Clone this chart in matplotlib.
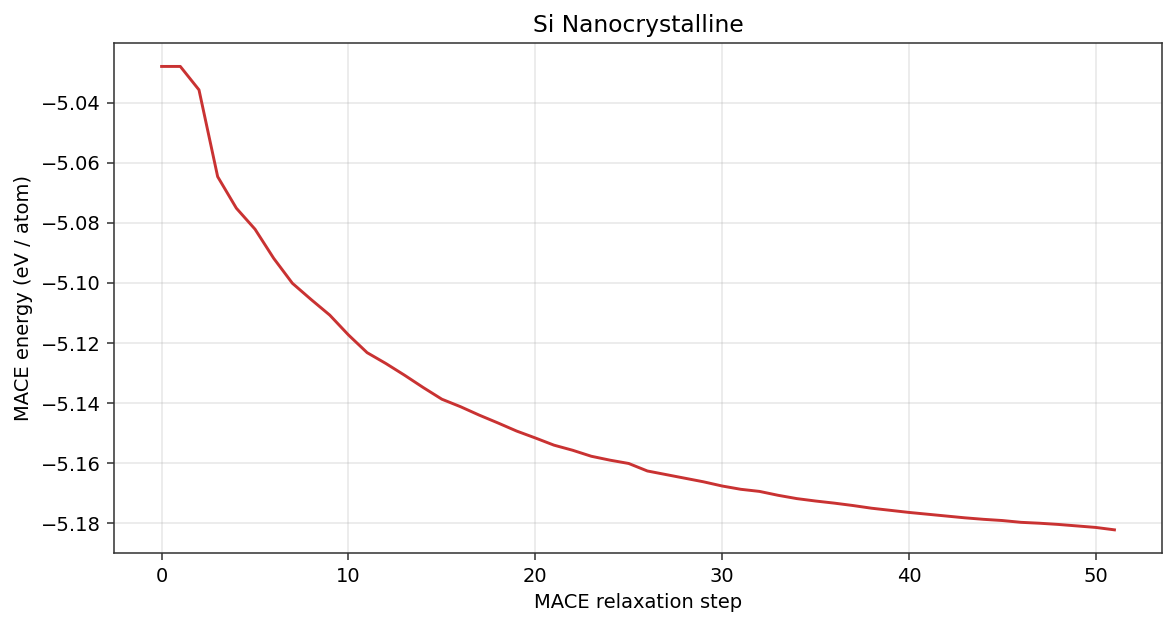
import numpy as np
import matplotlib
matplotlib.use("Agg")
import matplotlib.pyplot as plt

# energy per atom at each relaxation step
steps = list(range(52))
energy = [
    -5.0279, -5.0279, -5.0357, -5.0646, -5.0751, -5.0821, -5.0918, -5.1001,
    -5.1055, -5.1107, -5.1173, -5.1232, -5.1268, -5.1307, -5.1348, -5.1387,
    -5.1412, -5.1440, -5.1466, -5.1493, -5.1516, -5.1540, -5.1557, -5.1577,
    -5.1590, -5.1601, -5.1626, -5.1638, -5.1650, -5.1662, -5.1676, -5.1687,
    -5.1694, -5.1707, -5.1718, -5.1726, -5.1733, -5.1741, -5.1750, -5.1757,
    -5.1764, -5.1770, -5.1776, -5.1782, -5.1787, -5.1791, -5.1797, -5.1800,
    -5.1804, -5.1809, -5.1814, -5.1822,
]

dpi = 140
fig = plt.figure(figsize=(1175 / dpi, 627 / dpi), dpi=dpi)
ax = fig.add_axes([0.097, 0.118, 0.892, 0.813])
ax.plot(steps, energy, c='#c93232', lw=1.5)
ax.grid(True, alpha=0.3)
for s in ax.spines.values():
    s.set_color('#333333')
ax.tick_params(color='#333333')
ax.set_title("Si Nanocrystalline")
ax.set_xlabel("MACE relaxation step")
ax.set_ylabel("MACE energy (eV / atom)")
fig.savefig("out.png", dpi=dpi)
